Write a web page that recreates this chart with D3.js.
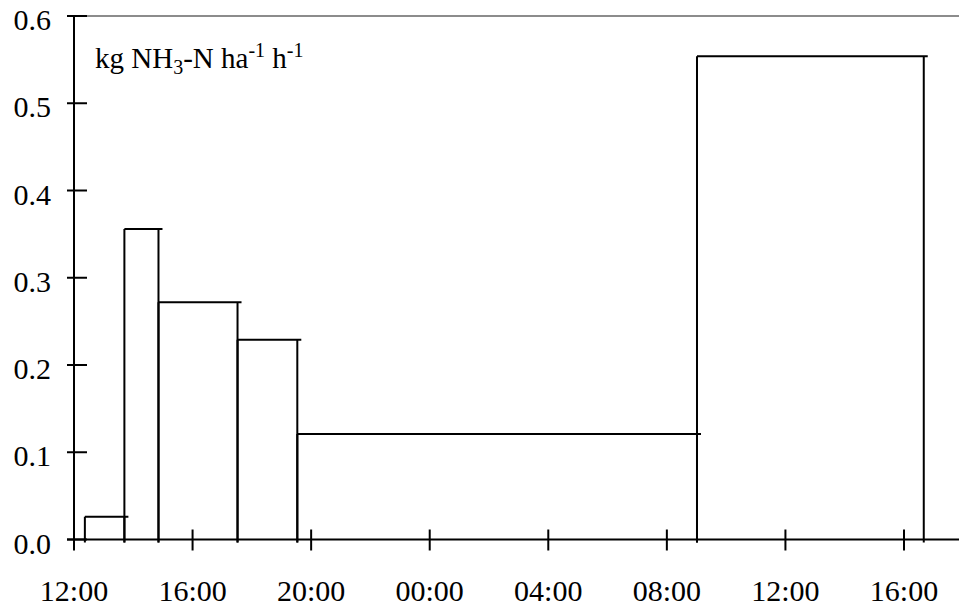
<!DOCTYPE html>
<html>
<head>
<meta charset="utf-8">
<script src="https://cdn.jsdelivr.net/npm/d3@7"></script>
</head>
<body style="margin:0">
<div id="svgzone"></div>
<script>
// measurement periods (start / end) and NH3 flux for each period
let periodStart = ["2000-01-01 12:22", "2000-01-01 13:42", "2000-01-01 14:51", "2000-01-01 17:31", "2000-01-01 19:32", "2000-01-02 09:01"];
let periodEnd   = ["2000-01-01 13:42", "2000-01-01 14:51", "2000-01-01 17:31", "2000-01-01 19:32", "2000-01-02 09:01", "2000-01-02 16:40"];
let flux = [0.026, 0.356, 0.272, 0.229, 0.121, 0.554];
let yTicks = [0, 0.1, 0.2, 0.3, 0.4, 0.5, 0.6];
let xTickStart = "2000-01-01 12:00", xTickEnd = "2000-01-02 16:00";

let parse = d3.timeParse("%Y-%m-%d %H:%M");
let data = flux.map(function (v, i) {
    return { start: parse(periodStart[i]), end: parse(periodEnd[i]), value: v };
});

let width = 959, height = 608;

let svg = d3.select("#svgzone")
    .append("svg")
    .attr("width", width)
    .attr("height", height);

// scales
let x = d3.scaleTime()
    .domain([parse(xTickStart), parse(xTickEnd)])
    .range([74, 904]);

let y = d3.scaleLinear()
    .domain([0, 0.6])
    .range([539.5, 16]);

// top frame line (grey)
svg.append("line")
    .attr("x1", 74).attr("x2", width)
    .attr("y1", y(0.6)).attr("y2", y(0.6))
    .attr("stroke", "#8c8c8c")
    .attr("stroke-width", 2);

// bars drawn as open outlines, top line running a little past the right edge
let bars = svg.append("g")
    .attr("fill", "none")
    .attr("stroke", "#000")
    .attr("stroke-width", 2);

bars.selectAll("path")
    .data(data)
    .enter()
    .append("path")
    .attr("d", function (d) {
        let x0 = x(d.start), x1 = x(d.end), yt = y(d.value), yb = y(0) + 3;
        return "M" + x0 + "," + yb + "V" + yt + "M" + x0 + "," + yt + "H" + (x1 + 4) +
            "M" + x1 + "," + yt + "V" + yb;
    });

// y axis
let yAxis = svg.append("g")
    .attr("transform", "translate(74,0)");
yAxis.append("line")
    .attr("x1", 0).attr("x2", 0)
    .attr("y1", y(0.6)).attr("y2", y(0))
    .attr("stroke", "#000").attr("stroke-width", 2);
yAxis.selectAll(".ytick")
    .data(yTicks)
    .enter()
    .append("line")
    .attr("x1", -7).attr("x2", 13)
    .attr("y1", function (d) { return y(d) })
    .attr("y2", function (d) { return y(d) })
    .attr("stroke", "#000").attr("stroke-width", 2);
yAxis.selectAll(".ylabel")
    .data(yTicks)
    .enter()
    .append("text")
    .attr("x", -23)
    .attr("y", function (d) { return y(d) + 14 })
    .attr("text-anchor", "end")
    .attr("style", "font-family:'Liberation Serif';font-size:30px")
    .text(function (d) { return d3.format(".1f")(d) });

// x axis
let xTicks = x.ticks(d3.timeHour.every(4));
let xAxis = svg.append("g")
    .attr("transform", "translate(0," + y(0) + ")");
xAxis.append("line")
    .attr("x1", 67).attr("x2", width)
    .attr("y1", 0).attr("y2", 0)
    .attr("stroke", "#000").attr("stroke-width", 2);
xAxis.selectAll(".xtick")
    .data(xTicks)
    .enter()
    .append("line")
    .attr("x1", function (d) { return x(d) })
    .attr("x2", function (d) { return x(d) })
    .attr("y1", -10).attr("y2", 11)
    .attr("stroke", "#000").attr("stroke-width", 2);
xAxis.selectAll(".xlabel")
    .data(xTicks)
    .enter()
    .append("text")
    .attr("x", function (d) { return x(d) })
    .attr("y", 61)
    .attr("text-anchor", "middle")
    .attr("style", "font-family:'Liberation Serif';font-size:30px")
    .text(function (d) { return d3.timeFormat("%H:%M")(d) });

// unit label
let unit = svg.append("text")
    .attr("x", 95)
    .attr("y", 68)
    .attr("style", "font-family:'Liberation Serif';font-size:29px");
unit.append("tspan").text("kg NH");
unit.append("tspan").attr("dy", 6).style("font-size", "20px").text("3");
unit.append("tspan").attr("dy", -6).text("-N ha");
unit.append("tspan").attr("dy", -11).style("font-size", "20px").text("-1");
unit.append("tspan").attr("dy", 11).text(" h");
unit.append("tspan").attr("dy", -11).style("font-size", "20px").text("-1");
</script>
</body>
</html>
